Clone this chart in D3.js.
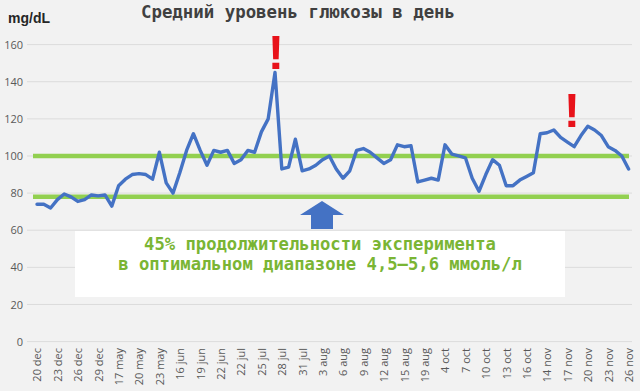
<!DOCTYPE html>
<html><head><meta charset="utf-8">
<script src="https://cdn.jsdelivr.net/npm/d3@7"></script>
<style>
html,body{margin:0;padding:0;background:#f2f2f2;}
svg{display:block;}
</style></head>
<body>
<svg id="chart" width="640" height="391"></svg>
<script>
// ---- data ----
const tickLabels = ["20 dec","23 dec","26 dec","29 dec","17 may","20 may","23 may","16 jun","19 jun","22 jun",
  "22 jul","25 jul","28 jul","31 jul","3 aug","6 aug","9 aug","12 aug","15 aug","19 aug",
  "4 oct","7 oct","10 oct","13 oct","16 oct","14 nov","17 nov","20 nov","23 nov","26 nov"];
const glucose = [74,74,72,76.5,79.5,78,75.5,76.5,79,78.5,
  79,73,84,87.5,90,90.5,90,87.5,102,85.5,
  80,91,103,112,103,95,103,102,103,96,
  98,103,102,113,120,145,93,94,109,92,
  93,95,98,100,93,88,92,103,104,102,
  99,96,98,106,105,105.5,86,87,88,87,
  106,101,100,99,88,81,90,98,95,84,
  84,87,89,91,112,112.5,114,110,107.5,105,
  111,116,114,111,105,103,100,93];
const rangeLines = [100, 78];
const yTicks = [0,20,40,60,80,100,120,140,160];
const alertIdx = [35, 78.5];

const svg = d3.select("#chart");
svg.append("rect").attr("width",640).attr("height",391).attr("fill","#f2f2f2");

const x = d3.scaleLinear().domain([0, glucose.length-1]).range([37, 628.6]);
const y = d3.scaleLinear().domain([0,160]).range([341.6, 44.6]);

// gridlines
svg.append("g").selectAll("line").data(yTicks).join("line")
  .attr("x1",27).attr("x2",632)
  .attr("y1",d=>y(d)).attr("y2",d=>y(d))
  .attr("stroke","#dcdcdc").attr("stroke-width",1);

// y axis
const yAxis = d3.axisLeft(y).tickValues(yTicks).tickSize(0).tickPadding(0);
const gy = svg.append("g").attr("transform","translate(23,0)").call(yAxis);
gy.select(".domain").remove();
gy.selectAll("text").attr("fill","#595959").style("font-family","'Open Sans', sans-serif").style("font-size","11px");

// x axis
const xAxis = d3.axisBottom(x).tickValues(d3.range(0, glucose.length, 3))
  .tickFormat((d,i)=>tickLabels[i]).tickSize(0);
const gx = svg.append("g").attr("transform","translate(0,346)").call(xAxis);
gx.select(".domain").remove();
gx.selectAll("text")
  .attr("transform","rotate(-90)")
  .attr("text-anchor","end")
  .attr("x",-2).attr("y",0).attr("dy","0.35em")
  .attr("fill","#595959").style("font-family","'Open Sans', sans-serif").style("font-size","11px");

// green range lines
svg.append("g").selectAll("line").data(rangeLines).join("line")
  .attr("x1",33).attr("x2",629)
  .attr("y1",d=>y(d)).attr("y2",d=>y(d))
  .attr("stroke","#92d050").attr("stroke-width",4.5);

// glucose line
svg.append("path").datum(glucose)
  .attr("d", d3.line().x((d,i)=>x(i)).y(d=>y(d)))
  .attr("fill","none").attr("stroke","#4472c4").attr("stroke-width",3.4)
  .attr("stroke-linejoin","round").attr("stroke-linecap","round");

// exclamation marks
svg.append("g").selectAll("text").data(alertIdx).join("text")
  .attr("x",d=>x(d)+1).attr("y",(d,i)=> i===0 ? 69 : 127)
  .attr("text-anchor","middle")
  .attr("fill","#e8121a")
  .style("font-family","'Liberation Sans', Arial, sans-serif")
  .style("font-weight","bold").style("font-size","49px")
  .text("!");

// arrow
const ax = 322;
svg.append("path")
  .attr("d",`M${ax},201 L${ax+22},215 L${ax+11},215 L${ax+11},229 L${ax-11},229 L${ax-11},215 L${ax-22},215 Z`)
  .attr("fill","#4472c4");

// text box
svg.append("rect").attr("x",75).attr("y",231).attr("width",490).attr("height",66).attr("fill","#ffffff");
const boxLines = ["45% продолжительности эксперимента","в оптимальном диапазоне 4,5–5,6 ммоль/л"];
svg.append("g").selectAll("text").data(boxLines).join("text")
  .attr("x",320).attr("y",(d,i)=>250+i*20)
  .attr("text-anchor","middle")
  .attr("fill","#7ab534")
  .style("font-family","'DejaVu Sans Mono', monospace")
  .style("font-weight","bold").style("font-size","17.2px")
  .text(d=>d);

// title
svg.append("text").attr("x",298).attr("y",18).attr("text-anchor","middle")
  .attr("fill","#404040")
  .style("font-family","'DejaVu Sans Mono', monospace")
  .style("font-weight","bold").style("font-size","17.4px")
  .text("Средний уровень глюкозы в день");

// unit label
svg.append("text").attr("x",8).attr("y",23)
  .attr("fill","#262626")
  .style("font-family","'Liberation Sans', Arial, sans-serif")
  .style("font-weight","bold").style("font-size","14px")
  .text("mg/dL");
</script>
</body></html>
